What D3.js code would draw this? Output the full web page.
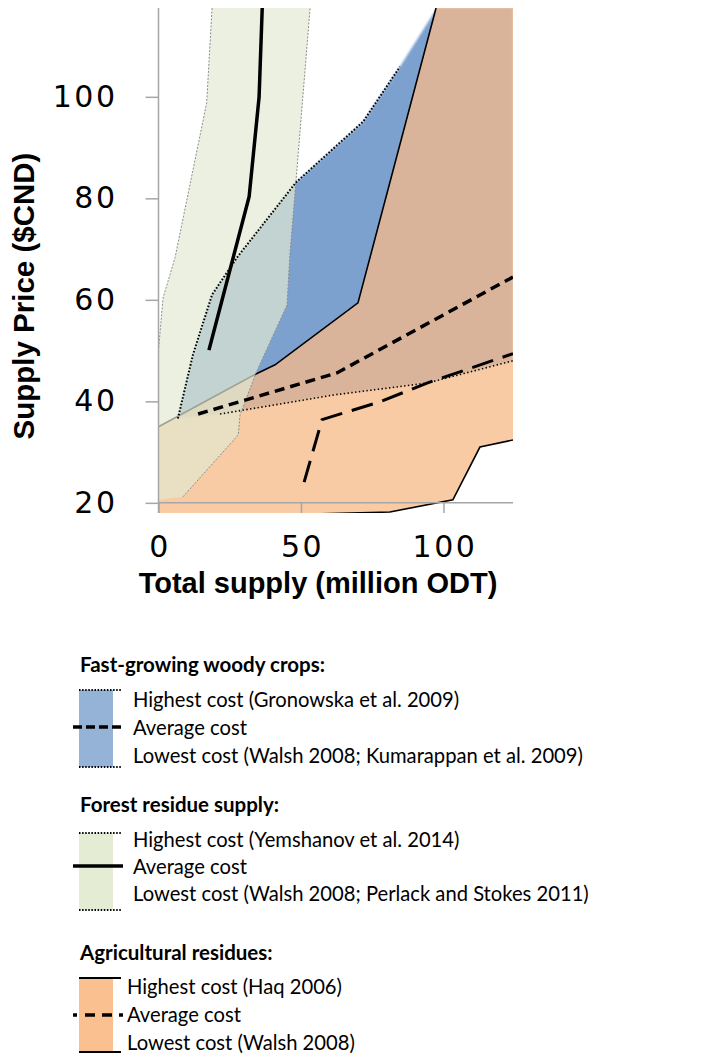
<!DOCTYPE html>
<html>
<head>
<meta charset="utf-8">
<script src="https://cdn.jsdelivr.net/npm/d3@7"></script>
<style>
  body { margin: 0; background: #fff; }
  svg { display: block; }
</style>
</head>
<body>
<svg id="chart" width="702" height="1057"></svg>
<script>
// supply curves, [total supply (million ODT), price ($CND)]
const forestHigh = [[18.8, 117.5], [16.9, 98.8], [5.8, 68.3], [1.6, 60.4], [0, 50.1], [0, 20.6]]
const forestLow = [[8.6, 21.2], [28.0, 33.4], [28.6, 37.3], [34.2, 45.6], [45.1, 59.0], [46.1, 68.9], [48.2, 83.1], [53.2, 117.5]]
const forestAvg = [[36.4, 117.5], [35.3, 100], [31.8, 80.3], [17.7, 50.1]]

const woodyHigh = [[6.8, 36.6], [12.1, 49.2], [18.8, 61.0], [27.5, 68.3], [48.2, 83.1], [71.8, 95.1], [84.7, 105.9]]
const woodyHighTop = [[97.7, 117.5]]
const woodyLow = [[21.6, 37.5], [61.9, 41.3], [94.2, 43.6], [124.4, 48.0]]
const woodyAvg = [[13.9, 37.5], [62.6, 45.6], [124.4, 64.5]]

const agHigh = [[0, 35.0], [34.2, 45.4], [40.9, 47.2], [70.0, 59.4], [97.4, 117.5]]
const agLow = [[0, 17.0], [81.2, 18.2], [103.3, 20.6], [112.8, 31.0], [124.4, 32.4]]
const agAvg = [[51.1, 24.1], [57.4, 36.4], [77.7, 39.9], [94.2, 43.6], [124.4, 49.4]]

const xTicks = [0, 50, 100]
const yTicks = [20, 40, 60, 80, 100]
const xDomain = [0, 124.4]
const yDomain = [18, 117.5]

const svg = d3.select('#chart')
const xScale = d3.scaleLinear().domain(xDomain).range([158.5, 513])
const yScale = d3.scaleLinear().domain(yDomain).range([513, 8])

const defs = svg.append('defs')
defs.append('clipPath').attr('id', 'plotClip')
    .append('rect')
    .attr('x', xScale(xDomain[0])).attr('y', yScale(yDomain[1]))
    .attr('width', xScale(xDomain[1]) - xScale(xDomain[0]))
    .attr('height', yScale(yDomain[0]) - yScale(yDomain[1]))
defs.append('filter').attr('id', 'soft').attr('x', '-5%').attr('y', '-5%').attr('width', '110%').attr('height', '110%')
    .append('feGaussianBlur').attr('stdDeviation', 1.3)

const line = d3.line().x(d => xScale(d[0])).y(d => yScale(d[1]))
const corner = [xDomain[1], yDomain[1]]

const plot = svg.append('g').attr('clip-path', 'url(#plotClip)')

// fast-growing woody crops band (bottom layer)
const woodyBand = woodyHigh.concat(woodyHighTop, [corner], woodyLow.slice().reverse())
plot.append('path').attr('d', line(woodyBand) + 'Z')
    .attr('fill', '#7ba1cf').attr('filter', 'url(#soft)')

// agricultural residues band
const agBand = agHigh.concat([corner], agLow.slice().reverse())
plot.append('path').attr('d', line(agBand) + 'Z')
    .attr('fill', '#f7bb89').attr('fill-opacity', 0.76)
plot.append('path').attr('d', line(agHigh)).attr('fill', 'none').attr('stroke', '#000').attr('stroke-width', 1.6)
plot.append('path').attr('d', line(agLow)).attr('fill', 'none').attr('stroke', '#000').attr('stroke-width', 1.6)

// forest residue band
const forestBand = forestHigh.concat(forestLow)
plot.append('path').attr('d', line(forestBand) + 'Z')
    .attr('fill', '#e2e9d2').attr('fill-opacity', 0.69)
;[forestHigh, forestLow].forEach(d => {
    plot.append('path').attr('d', line(d)).attr('fill', 'none')
        .attr('stroke', '#8c8c8c').attr('stroke-width', 1).attr('stroke-dasharray', '2,1.5')
})
plot.append('path').attr('d', line(forestAvg)).attr('fill', 'none')
    .attr('stroke', '#000').attr('stroke-width', 3.5)

// woody crop lines
plot.append('path').attr('d', line(woodyHigh)).attr('fill', 'none')
    .attr('stroke', '#000').attr('stroke-width', 2).attr('stroke-dasharray', '1.6,1.8')
plot.append('path').attr('d', line(woodyLow)).attr('fill', 'none')
    .attr('stroke', '#000').attr('stroke-width', 1.6).attr('stroke-dasharray', '1.4,2.4')
plot.append('path').attr('d', line(woodyAvg)).attr('fill', 'none')
    .attr('stroke', '#000').attr('stroke-width', 3.5).attr('stroke-dasharray', '10,6')

// agricultural average
plot.append('path').attr('d', line(agAvg)).attr('fill', 'none')
    .attr('stroke', '#000').attr('stroke-width', 3).attr('stroke-dasharray', '22,10')

// axes
const axisColor = '#a6a6a6'
const yAxis = d3.axisLeft(yScale).tickValues(yTicks).tickSize(13).tickPadding(28)
const yAxisGroup = svg.append('g').attr('transform', `translate(${xScale(0)},0)`).call(yAxis)
yAxisGroup.select('.domain').attr('d', `M0,${yScale(yDomain[1])}V${yScale(yDomain[0])}`)

const xAxis = d3.axisBottom(xScale).tickValues(xTicks).tickSize(yScale(yDomain[0]) - yScale(20)).tickPadding(23)
const xAxisGroup = svg.append('g').attr('transform', `translate(0,${yScale(20)})`).call(xAxis)
xAxisGroup.select('.domain').attr('d', `M${xScale(xDomain[0])},0H${xScale(xDomain[1])}`)

;[yAxisGroup, xAxisGroup].forEach(g => {
    g.selectAll('.domain, line').attr('stroke', axisColor).attr('stroke-width', 1.5)
    g.selectAll('text').attr('font-family', 'DejaVu Sans').attr('font-size', 30).attr('fill', '#000')
        .attr('letter-spacing', 2.5)
})
xAxisGroup.selectAll('text').attr('dx', 1)

// axis titles
svg.append('text').attr('transform', 'translate(34,296) rotate(-90)')
    .attr('text-anchor', 'middle').attr('font-family', 'Liberation Sans').attr('font-weight', 'bold')
    .attr('font-size', 29.5).text('Supply Price ($CND)')
svg.append('text').attr('x', 318).attr('y', 593)
    .attr('text-anchor', 'middle').attr('font-family', 'Liberation Sans').attr('font-weight', 'bold')
    .attr('font-size', 29).text('Total supply (million ODT)')

// legend
const legendGroups = [
    { title: 'Fast-growing woody crops:', titleY: 672, color: '#95b3d7', top: 690, bottom: 767, mid: 727, textX: 133,
      rows: ['Highest cost (Gronowska et al. 2009)', 'Average cost', 'Lowest cost (Walsh 2008; Kumarappan et al. 2009)'],
      rowY: [707, 735, 763], edge: { w: 2, dash: '1.5,1.6' }, avg: { w: 3.5, dash: '9,4' } },
    { title: 'Forest residue supply:', titleY: 812, color: '#e4ecd4', top: 833, bottom: 910, mid: 866, textX: 133,
      rows: ['Highest cost (Yemshanov et al. 2014)', 'Average cost', 'Lowest cost (Walsh 2008; Perlack and Stokes 2011)'],
      rowY: [847, 874, 901], edge: { w: 2, dash: '1.5,1.6' }, avg: { w: 3.5, dash: null } },
    { title: 'Agricultural residues:', titleY: 960, color: '#fac08f', top: 978, bottom: 1052, mid: 1015, textX: 127,
      rows: ['Highest cost (Haq 2006)', 'Average cost', 'Lowest cost (Walsh 2008)'],
      rowY: [994, 1022, 1050], edge: { w: 1.8, dash: null }, avg: { w: 3.5, dash: '4,8,10,7,10,7' } }
]

legendGroups.forEach(g => {
    const lg = svg.append('g')
    lg.append('text').attr('x', 80).attr('y', g.titleY).attr('font-family', 'Lato').attr('font-weight', 'bold')
        .attr('font-size', 20.5).text(g.title)
    lg.append('rect').attr('x', 79).attr('y', g.top).attr('width', 34).attr('height', g.bottom - g.top).attr('fill', g.color)
    ;[g.top, g.bottom].forEach(yy => {
        lg.append('line').attr('x1', 79).attr('x2', 121).attr('y1', yy).attr('y2', yy)
            .attr('stroke', '#000').attr('stroke-width', g.edge.w).attr('stroke-dasharray', g.edge.dash)
    })
    lg.append('line').attr('x1', 73).attr('x2', 123).attr('y1', g.mid).attr('y2', g.mid)
        .attr('stroke', '#000').attr('stroke-width', g.avg.w).attr('stroke-dasharray', g.avg.dash)
    g.rows.forEach((t, i) => {
        lg.append('text').attr('x', g.textX).attr('y', g.rowY[i]).attr('font-family', 'Lato')
            .attr('font-size', 20.2).text(t)
    })
})
</script>
</body>
</html>
